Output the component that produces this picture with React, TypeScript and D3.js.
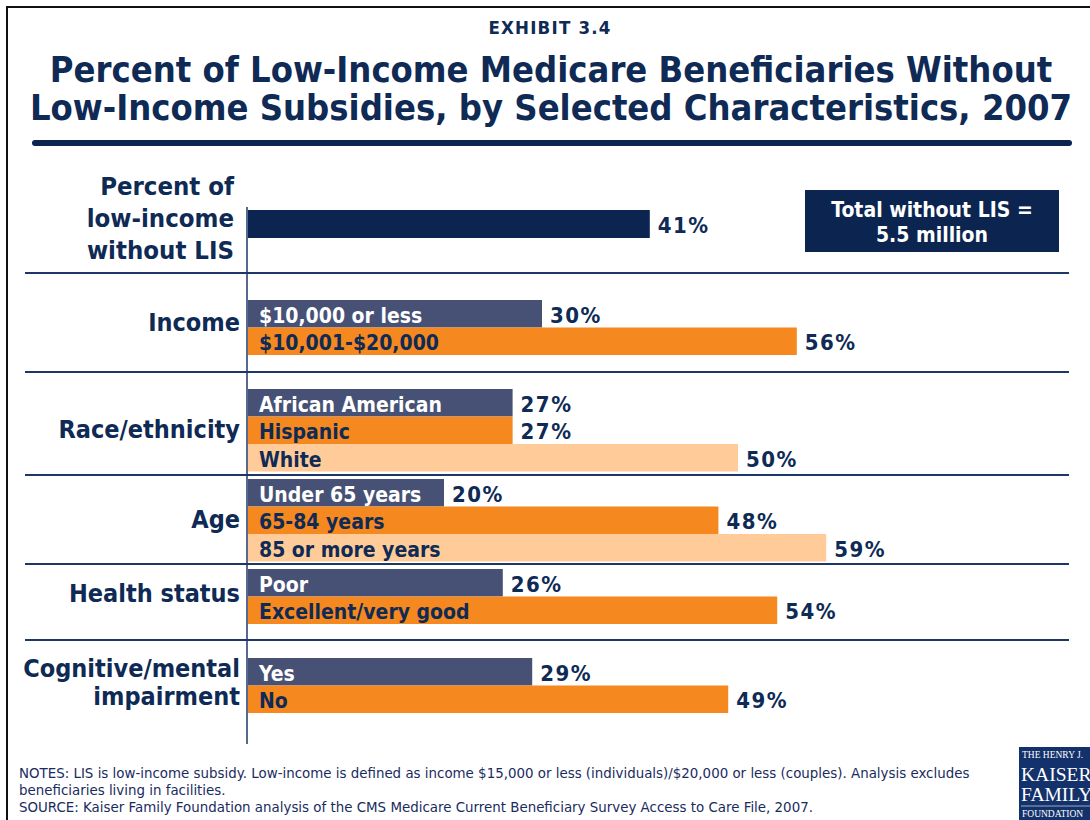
import React from "react";
import * as d3 from "d3";

// ---------- data ----------
const exhibitLabel = "EXHIBIT 3.4";
const titleLines = [
  "Percent of Low-Income Medicare Beneficiaries Without",
  "Low-Income Subsidies, by Selected Characteristics, 2007",
];
const totalLabelLines = ["Percent of", "low-income", "without LIS"];
const totalValue = 41;
const totalBoxLines = ["Total without LIS =", "5.5 million"];

const groupNames = ["Income", "Race/ethnicity", "Age", "Health status", "Cognitive/mental impairment"];
const incomeCategories = ["$10,000 or less", "$10,001-$20,000"];
const incomeValues = [30, 56];
const raceCategories = ["African American", "Hispanic", "White"];
const raceValues = [27, 27, 50];
const ageCategories = ["Under 65 years", "65-84 years", "85 or more years"];
const ageValues = [20, 48, 59];
const healthCategories = ["Poor", "Excellent/very good"];
const healthValues = [26, 54];
const cognitiveCategories = ["Yes", "No"];
const cognitiveValues = [29, 49];

const notesLines = [
  "NOTES: LIS is low-income subsidy.  Low-income is defined as income $15,000 or less (individuals)/$20,000 or less (couples). Analysis excludes",
  "beneficiaries living in facilities.",
  "SOURCE: Kaiser Family Foundation analysis of the CMS Medicare Current Beneficiary Survey Access to Care File, 2007.",
];
const logoLines = ["THE HENRY J.", "KAISER", "FAMILY", "FOUNDATION"];

// ---------- styles / layout ----------
const W = 1090;
const H = 820;
const NAVY = "#0B2550";
const TEXT = "#0E2A55";
const SLATE = "#465175";
const ORANGE = "#F5881F";
const PEACH = "#FFCC99";
const FONT = "'DejaVu Sans Condensed', 'DejaVu Sans', sans-serif";
const barColors = [SLATE, ORANGE, PEACH];
const labelColors = ["#FFFFFF", TEXT, TEXT];

const BAR_H = 27.5;
const groupLayout = [
  { top: 300, labelY: [331] },
  { top: 389, labelY: [438] },
  { top: 479, labelY: [528] },
  { top: 569, labelY: [602] },
  { top: 658, labelY: [677, 705] },
];
const groupLabelLines = [["Income"], ["Race/ethnicity"], ["Age"], ["Health status"], ["Cognitive/mental", "impairment"]];
const separators = [273, 372, 475, 564, 640];

const x = d3.scaleLinear().domain([0, 100]).range([248, 1228]);

const groups = [
  { cats: incomeCategories, vals: incomeValues },
  { cats: raceCategories, vals: raceValues },
  { cats: ageCategories, vals: ageValues },
  { cats: healthCategories, vals: healthValues },
  { cats: cognitiveCategories, vals: cognitiveValues },
];

export default function App() {
  return (
    <svg
      width={W}
      height={H}
      style={{ position: "absolute", left: 0, top: 0, background: "#fff" }}
      fontFamily={FONT}
    >
      <rect x={0} y={0} width={W} height={H} fill="#fff" />
      <rect x={7} y={7} width={1110} height={840} fill="none" stroke="#111" strokeWidth={2} />

      <text x={550} y={34} textAnchor="middle" fontSize={18.5} fontWeight="bold" letterSpacing={1.2} fill={TEXT}>
        {exhibitLabel}
      </text>
      {titleLines.map((t, i) => (
        <text key={i} x={551} y={82 + i * 38} textAnchor="middle" fontSize={36} fontWeight="bold" fill={TEXT}>
          {t}
        </text>
      ))}
      <line x1={35} x2={1069} y1={143} y2={143} stroke={NAVY} strokeWidth={6} strokeLinecap="round" />

      {/* total section */}
      {totalLabelLines.map((t, i) => (
        <text key={i} x={234} y={195 + i * 32} textAnchor="end" fontSize={25.5} fontWeight="bold" fill={TEXT}>
          {t}
        </text>
      ))}
      <rect x={x(0)} y={210} width={x(totalValue) - x(0)} height={28} fill={NAVY} />
      <text x={x(totalValue) + 8} y={233} fontSize={22} letterSpacing={1.5} fontWeight="bold" fill={TEXT}>
        {totalValue}%
      </text>
      <rect x={805} y={190} width={254} height={62} fill={NAVY} />
      {totalBoxLines.map((t, i) => (
        <text key={i} x={932} y={217 + i * 25} textAnchor="middle" fontSize={21} fontWeight="bold" fill="#fff">
          {t}
        </text>
      ))}

      {separators.map((s, i) => (
        <line key={i} x1={25} x2={1069} y1={s} y2={s} stroke="#1F3766" strokeWidth={2} />
      ))}

      {groups.map((g, gi) => {
        const y = d3
          .scaleBand<string>()
          .domain(g.cats)
          .range([groupLayout[gi].top, groupLayout[gi].top + g.cats.length * BAR_H])
          .padding(0);
        return (
          <g key={gi}>
            {groupLabelLines[gi].map((t, li) => (
              <text
                key={li}
                x={240}
                y={groupLayout[gi].labelY[li]}
                textAnchor="end"
                fontSize={25}
                fontWeight="bold"
                fill={TEXT}
              >
                {t}
              </text>
            ))}
            {g.cats.map((c, ci) => {
              const by = y(c) as number;
              const bh = y.bandwidth();
              return (
                <g key={c}>
                  <rect x={x(0)} y={by} width={x(g.vals[ci]) - x(0)} height={bh} fill={barColors[ci]} />
                  <text x={x(0) + 11} y={by + bh - 5} fontSize={21} fontWeight="bold" fill={labelColors[ci]}>
                    {c}
                  </text>
                  <text
                    x={x(g.vals[ci]) + 8}
                    y={by + bh - 5}
                    fontSize={22}
                    letterSpacing={1.5}
                    fontWeight="bold"
                    fill={TEXT}
                  >
                    {g.vals[ci]}%
                  </text>
                </g>
              );
            })}
          </g>
        );
      })}

      <line x1={247} x2={247} y1={207} y2={744} stroke="#1F3766" strokeWidth={1.5} />

      {notesLines.map((t, i) => (
        <text key={i} x={19} y={778 + i * 17} fontFamily="'DejaVu Sans', sans-serif" fontSize={13.4} fill="#1A2B5E">
          {t}
        </text>
      ))}

      {/* logo */}
      <g fontFamily="'Liberation Serif', serif" fill="#fff">
        <rect x={1019} y={747} width={80} height={80} fill="#13316B" />
        <text x={1022} y={758} fontSize={9.5}>
          {logoLines[0]}
        </text>
        <text x={1021} y={781} fontSize={19.5}>
          {logoLines[1]}
        </text>
        <text x={1021} y={801} fontSize={19.5}>
          {logoLines[2]}
        </text>
        <line x1={1021} x2={1090} y1={806} y2={806} stroke="#fff" strokeWidth={0.6} />
        <text x={1022} y={817} fontSize={9.5}>
          {logoLines[3]}
        </text>
      </g>
    </svg>
  );
}
